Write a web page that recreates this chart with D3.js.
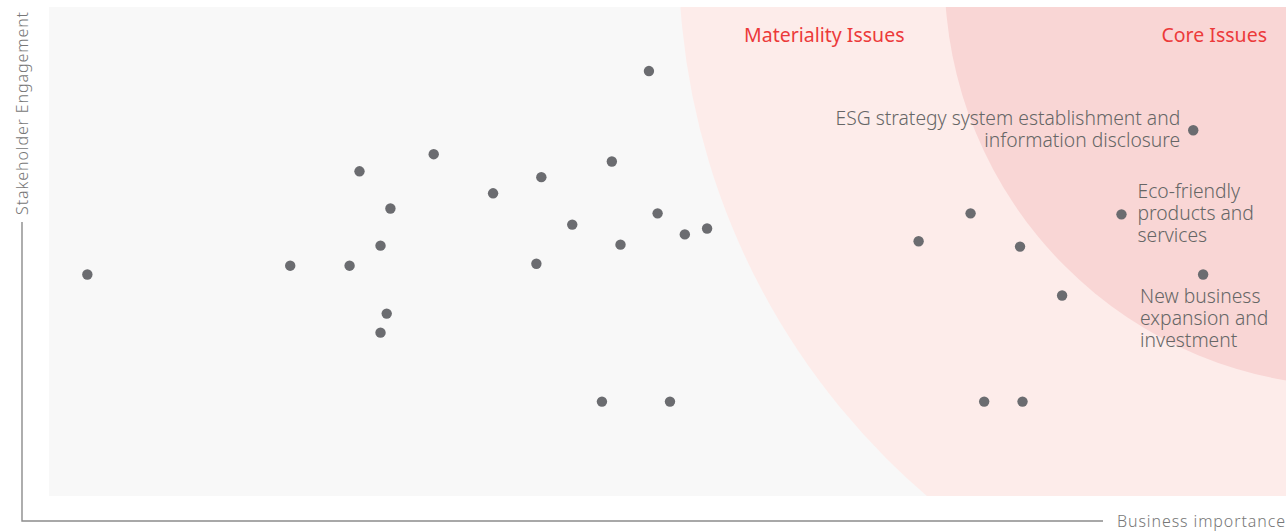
<!DOCTYPE html>
<html>
<head>
<meta charset="utf-8">
<script src="https://cdn.jsdelivr.net/npm/d3@7"></script>
<style>
  html, body { margin: 0; padding: 0; background: #ffffff; }
  svg { display: block; font-family: "Noto Sans", "Open Sans", sans-serif; }
</style>
</head>
<body>
<svg id="chart" width="1286" height="532"></svg>
<script>
// Issue scores: business importance (x) and stakeholder engagement (y), 0–100
const issueX = [3.1, 19.5, 24.3, 25.1, 27.6, 26.8, 27.3, 26.8, 31.1, 35.9,
                39.8, 39.4, 42.3, 45.5, 46.2, 48.5, 49.2, 51.4, 53.2, 44.7,
                50.2, 70.3, 74.5, 78.5, 81.9, 75.6, 78.7, 92.5, 86.7, 93.3];
const issueY = [45.3, 47.1, 47.1, 66.4, 58.8, 51.2, 37.3, 33.4, 69.9, 61.9,
                65.2, 47.5, 55.5, 68.4, 51.4, 86.9, 57.8, 53.5, 54.7, 19.3,
                19.3, 52.1, 57.8, 51.0, 41.0, 19.3, 19.3, 74.8, 57.6, 45.3];

// Labelled core issues (index into the arrays above)
const labelledIssues = [
  { index: 27, lines: ["ESG strategy system establishment and", "information disclosure"], side: "left" },
  { index: 28, lines: ["Eco-friendly", "products and", "services"], side: "right" },
  { index: 29, lines: ["New business", "expansion and", "investment"], side: "below" }
];

// Zone circles: centre in score units, radius in x-score units
const zoneNames = ["Materiality Issues", "Core Issues"];
const zoneCx = [108.3, 105.6];
const zoneCy = [110.3, 106.4];
const zoneR = [57.4, 33.2];
const zoneFill = ["#fdecea", "#f9d6d5"];

const axisTitles = { x: "Business importance", y: "Stakeholder Engagement" };

const svg = d3.select("#chart");
const plot = { left: 49, right: 1286, top: 7, bottom: 496 };

const x = d3.scaleLinear().domain([0, 100]).range([plot.left, plot.right]);
const y = d3.scaleLinear().domain([0, 100]).range([plot.bottom, plot.top]);
const rScale = d3.scaleLinear().domain([0, 100]).range([0, plot.right - plot.left]);

svg.append("defs").append("clipPath").attr("id", "plot-clip")
  .append("rect")
  .attr("x", plot.left).attr("y", plot.top)
  .attr("width", plot.right - plot.left).attr("height", plot.bottom - plot.top);

// background panel
svg.append("rect")
  .attr("x", plot.left).attr("y", plot.top)
  .attr("width", plot.right - plot.left).attr("height", plot.bottom - plot.top)
  .attr("fill", "#f8f8f8");

// zones
svg.append("g").attr("clip-path", "url(#plot-clip)")
  .selectAll("circle").data(zoneNames).join("circle")
  .attr("cx", (d, i) => x(zoneCx[i]))
  .attr("cy", (d, i) => y(zoneCy[i]))
  .attr("r", (d, i) => rScale(zoneR[i]))
  .attr("fill", (d, i) => zoneFill[i]);

// zone titles
svg.append("text").attr("x", 744).attr("y", 42)
  .attr("fill", "#ec3a3a").attr("font-size", 19.5).text(zoneNames[0]);
svg.append("text").attr("x", 1267).attr("y", 42).attr("text-anchor", "end")
  .attr("fill", "#ec3a3a").attr("font-size", 19.5).text(zoneNames[1]);

// axes
const axisColor = "#8c8c8c";
svg.append("path")
  .attr("d", `M22,222 V521 H1103`)
  .attr("fill", "none").attr("stroke", axisColor).attr("stroke-width", 1.4);

svg.append("text")
  .attr("x", 1117).attr("y", 521).attr("dy", "0.36em")
  .attr("fill", "#777").attr("font-size", 16).attr("font-weight", 300)
  .attr("letter-spacing", 0.9).text(axisTitles.x);

svg.append("text")
  .attr("transform", "translate(22,215) rotate(-90)")
  .attr("dy", "0.36em")
  .attr("fill", "#777").attr("font-size", 16).attr("font-weight", 300)
  .attr("letter-spacing", 0.9).text(axisTitles.y);

// issue points
const points = issueX.map((v, i) => ({ x: v, y: issueY[i] }));
svg.append("g").selectAll("circle").data(points).join("circle")
  .attr("cx", d => x(d.x)).attr("cy", d => y(d.y))
  .attr("r", 5.2).attr("fill", "#6b6c70");

// issue labels
const lineH = 21.8;
labelledIssues.forEach(l => {
  const px = x(issueX[l.index]), py = y(issueY[l.index]);
  let tx, ty, anchor;
  if (l.side === "left") { tx = px - 13; ty = py - 5.5; anchor = "end"; }
  else if (l.side === "right") { tx = px + 16; ty = py - 16; anchor = "start"; }
  else { tx = px - 63; ty = py + 28.5; anchor = "start"; }
  const t = svg.append("text")
    .attr("x", tx).attr("y", ty).attr("text-anchor", anchor)
    .attr("fill", "#666").attr("font-size", 19.3).attr("font-weight", 300);
  l.lines.forEach((s, k) => {
    t.append("tspan").attr("x", tx).attr("y", ty + k * lineH).text(s);
  });
});
</script>
</body>
</html>
